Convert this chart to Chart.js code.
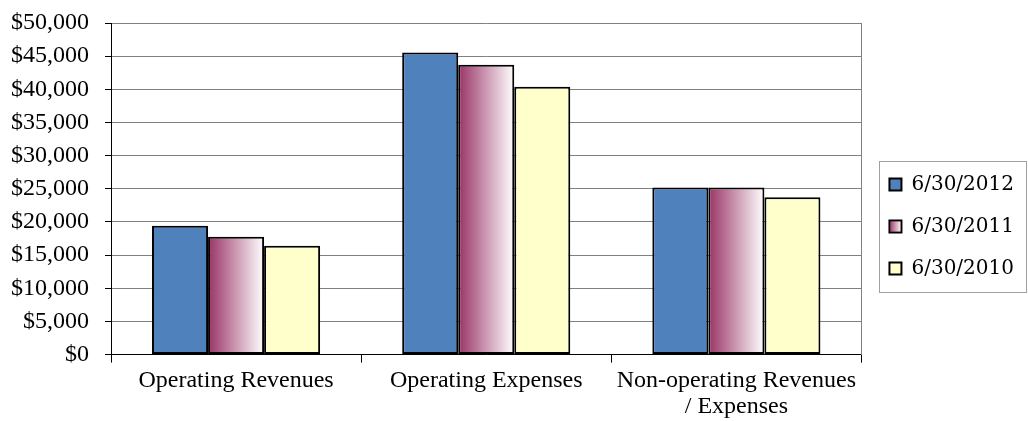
<!DOCTYPE html>
<html>
<head>
<meta charset="utf-8">
<script src="https://cdn.jsdelivr.net/npm/chart.js@4.4.1/dist/chart.umd.min.js"></script>
<style>
    html, body { margin: 0; padding: 0; background: #fff; }
    #wrap { width: 1028px; height: 421px; }
</style>
</head>
<body>
<div id="wrap"><canvas id="finChart"></canvas></div>
<script>
const categories = ['Operating Revenues', 'Operating Expenses', ['Non-operating Revenues', '/ Expenses']];
const seriesLabels = ['6/30/2012', '6/30/2011', '6/30/2010'];
const values2012 = [19440, 45570, 25180];
const values2011 = [17780, 43700, 25180];
const values2010 = [16420, 40390, 23720];
const yTicks = [0, 5000, 10000, 15000, 20000, 25000, 30000, 35000, 40000, 45000, 50000];

const CAT_PCT = 0.672;
const MAROON = '#993366';

// horizontal maroon-to-white fade for one bar of the 2011 series
const fadeFill = (context) => {
    const chart = context.chart;
    const xScale = chart.scales.x;
    if (!xScale || !chart.chartArea || context.dataIndex === undefined) return MAROON;
    const center = xScale.getPixelForValue(context.dataIndex);
    const barW = (xScale.width / categories.length) * CAT_PCT / 3;
    const g = chart.ctx.createLinearGradient(center - barW / 2, 0, center + barW / 2, 0);
    g.addColorStop(0, MAROON);
    g.addColorStop(1, '#ffffff');
    return g;
};

const legendFrame = {
    id: 'legendFrame',
    afterDraw(chart) {
        const boxes = chart.legend && chart.legend.legendHitBoxes;
        if (!boxes || !boxes.length) return;
        const ctx = chart.ctx;
        const left = Math.min(...boxes.map(b => b.left)) - 10;
        const top = Math.min(...boxes.map(b => b.top)) - 14;
        const right = Math.max(...boxes.map(b => b.left + b.width)) + 12;
        const bottom = Math.max(...boxes.map(b => b.top + b.height)) + 13;
        ctx.save();
        ctx.strokeStyle = '#a0a0a0';
        ctx.lineWidth = 1;
        ctx.strokeRect(Math.round(left) + 0.5, Math.round(top) + 0.5, Math.round(right - left), Math.round(bottom - top));
        // repaint the 2011 swatch with the same fade as its bars
        const b = boxes[1];
        const sw = 12;
        const sy = b.top + (b.height - sw) / 2;
        const g = ctx.createLinearGradient(b.left, 0, b.left + sw, 0);
        g.addColorStop(0, MAROON);
        g.addColorStop(1, '#ffffff');
        ctx.fillStyle = g;
        ctx.fillRect(b.left + 1, sy + 1, sw - 2, sw - 2);
        ctx.restore();
    }
};

const ctx = document.getElementById('finChart').getContext('2d');
new Chart(ctx, {
    type: 'bar',
    data: {
        labels: categories,
        datasets: [
            { label: seriesLabels[0], data: values2012, backgroundColor: '#4f81bd' },
            { label: seriesLabels[1], data: values2011, backgroundColor: fadeFill },
            { label: seriesLabels[2], data: values2010, backgroundColor: '#ffffcc' }
        ]
    },
    options: {
        responsive: true,
        maintainAspectRatio: false,
        animation: false,
        devicePixelRatio: 1,
        layout: { padding: { left: -5, top: 23, right: 4, bottom: -4 } },
        datasets: {
            bar: {
                borderColor: '#000000',
                borderWidth: 2,
                borderSkipped: false,
                categoryPercentage: CAT_PCT,
                barPercentage: 1.0
            }
        },
        scales: {
            x: {
                grid: {
                    offset: true,
                    drawOnChartArea: false,
                    tickLength: 8,
                    tickColor: '#000000'
                },
                border: { color: '#000000', width: 1 },
                ticks: {
                    color: '#000000',
                    padding: 6,
                    maxRotation: 0,
                    autoSkip: false,
                    font: { family: '"Liberation Serif", "Times New Roman", serif', size: 24, lineHeight: 1.05 }
                }
            },
            y: {
                min: 0,
                max: 50000,
                afterBuildTicks: (axis) => { axis.ticks = yTicks.map(v => ({ value: v })); },
                afterFit: (axis) => { axis.paddingTop = 0; },
                grid: {
                    color: '#808080',
                    tickColor: '#000000',
                    tickLength: 6
                },
                border: { color: '#000000', width: 1 },
                ticks: {
                    color: '#000000',
                    padding: 16,
                    autoSkip: false,
                    font: { family: '"Liberation Serif", "Times New Roman", serif', size: 24 },
                    callback: (value) => '$' + value.toLocaleString('en-US')
                }
            },
            y2: {
                position: 'right',
                min: 0,
                max: 50000,
                grid: { drawOnChartArea: false, drawTicks: false },
                border: { color: '#808080', width: 1 },
                ticks: { display: false },
                afterFit: (axis) => { axis.width = 6; axis.paddingTop = 0; }
            }
        },
        plugins: {
            legend: {
                position: 'right',
                title: { display: true, text: ' ', font: { size: 5, lineHeight: 1 }, padding: 0 },
                labels: {
                    boxWidth: 12,
                    boxHeight: 12,
                    padding: 22,
                    color: '#000000',
                    font: { family: '"DejaVu Serif", serif', size: 20, lineHeight: 1.2 },
                    generateLabels: (chart) => chart.data.datasets.map((ds, i) => ({
                        text: ds.label,
                        fillStyle: i === 1 ? MAROON : ds.backgroundColor,
                        strokeStyle: '#000000',
                        fontColor: '#000000',
                        lineWidth: 2,
                        hidden: false,
                        datasetIndex: i
                    }))
                }
            },
            tooltip: { enabled: false }
        }
    },
    plugins: [legendFrame]
});
</script>
</body>
</html>
